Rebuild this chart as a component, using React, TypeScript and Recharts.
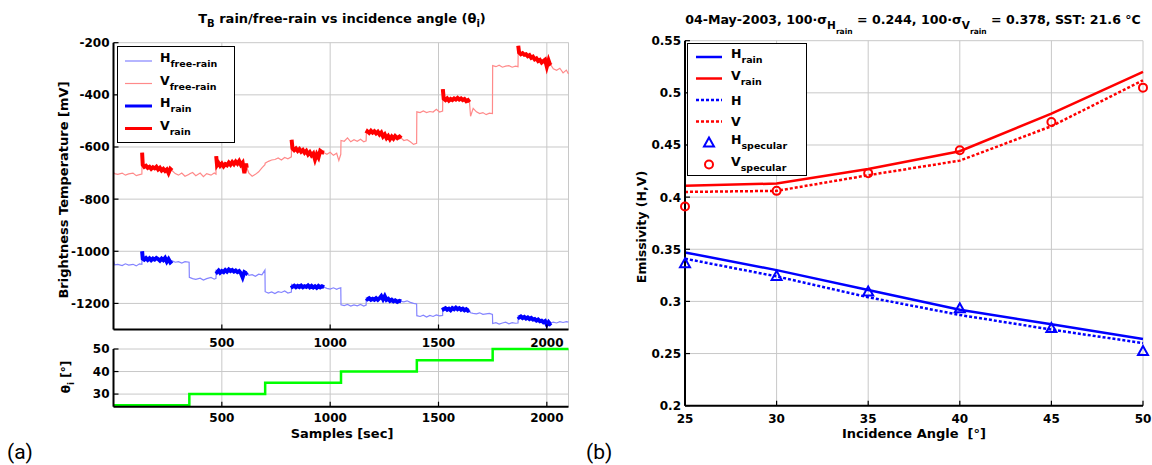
import React from 'react';
import { ComposedChart, Line, XAxis, YAxis, CartesianGrid, Legend, ReferenceLine } from 'recharts';

const FONT = '"DejaVu Sans", Verdana, sans-serif';
const GRID = '#c8c8c8';
const AXIS = { stroke: '#000', strokeWidth: 2 };

// ---- (a) brightness temperature traces ----
const samples = [
  0, 5, 20, 40, 55, 70, 90, 105, 120, 131,
  132, 135, 142, 150, 158, 166, 174, 182, 190, 198, 206, 214, 222, 230, 238, 246, 254, 262, 270,
  285, 300, 315, 330, 349,
  350, 365, 380, 400, 415, 430, 450, 465, 473,
  474, 478, 485, 492, 500, 508, 516, 524, 532, 540, 548, 556, 564, 572, 580, 588, 596, 604, 612, 615,
  625, 640, 655, 670, 685, 699,
  700, 715, 730, 745, 760, 775, 790, 805, 821,
  822, 826, 834, 842, 850, 858, 866, 874, 882, 890, 898, 906, 914, 922, 930, 938, 946, 954, 962, 972,
  985, 1000, 1015, 1030, 1040, 1049,
  1050, 1065, 1080, 1095, 1110, 1125, 1140, 1155, 1166,
  1167, 1172, 1180, 1188, 1196, 1204, 1212, 1220, 1228, 1236, 1244, 1252, 1260, 1268, 1276, 1284, 1292, 1300, 1310, 1320, 1328,
  1340, 1355, 1370, 1385, 1399,
  1400, 1415, 1430, 1445, 1460, 1475, 1490, 1505, 1519,
  1520, 1524, 1532, 1540, 1548, 1556, 1564, 1572, 1580, 1588, 1596, 1604, 1612, 1620, 1628, 1636, 1643,
  1648, 1660, 1675, 1690, 1705, 1720, 1735, 1749,
  1750, 1765, 1780, 1795, 1810, 1825, 1840, 1855, 1867,
  1868, 1872, 1880, 1888, 1896, 1904, 1912, 1920, 1928, 1936, 1944, 1952, 1960, 1968, 1976, 1984, 1992, 2000, 2008, 2014, 2019,
  2030, 2045, 2060, 2075, 2090, 2100,
];

const vTrace = [
  -698, -702, -705, -700, -708, -703, -700, -710, -706, -704,
  -622, -668, -676, -672, -680, -676, -684, -678, -682, -676, -686, -680, -690, -684, -692, -686, -700, -684, -690,
  -702, -708, -700, -712, -705,
  -703, -698, -710, -700, -714, -702, -708, -700, -704,
  -635, -670, -662, -672, -664, -674, -666, -670, -660, -668, -658, -666, -656, -664, -654, -668, -660, -700, -664, -680,
  -700, -712, -705, -695, -680, -668,
  -662, -655, -650, -648, -642, -650, -640, -645, -638,
  -572, -605, -612, -606, -615, -608, -618, -612, -622, -615, -628, -620, -632, -625, -648, -628, -640, -615, -620, -622,
  -628, -620, -632, -624, -652, -628,
  -575, -578, -565, -580, -572, -578, -570, -580, -576,
  -548, -540, -546, -538, -545, -540, -548, -542, -552, -545, -560, -552, -566, -558, -570, -560, -568, -558, -566, -560, -566,
  -575, -572, -580, -590, -586,
  -465, -468, -462, -468, -464, -466, -455, -466, -462,
  -378, -415, -420, -414, -422, -416, -420, -414, -418, -412, -418, -414, -420, -416, -424, -420, -428,
  -482, -452, -465, -472, -468, -476, -470, -472,
  -288, -292, -286, -294, -290, -288, -294, -290, -292,
  -212, -238, -244, -240, -246, -244, -252, -248, -258, -254, -264, -260, -270, -266, -276, -270, -265, -292, -268, -282, -286,
  -300, -306, -298, -316, -305, -320,
];

const hTrace = [
  -1035, -1052, -1050, -1055, -1048, -1053, -1050, -1056, -1048, -1050,
  -1000, -1028, -1032, -1026, -1033, -1027, -1034, -1028, -1032, -1026, -1030, -1036, -1028, -1034, -1026, -1040, -1030, -1042, -1036,
  -1042, -1040, -1045, -1040, -1042,
  -1100, -1105, -1108, -1103, -1110, -1105, -1100, -1107, -1104,
  -1075, -1080, -1074, -1082, -1076, -1080, -1072, -1078, -1070, -1076, -1072, -1078, -1074, -1080, -1076, -1084, -1100, -1080, -1084, -1080,
  -1092, -1090, -1096, -1088, -1090, -1072,
  -1155, -1160, -1156, -1162, -1155, -1158, -1152, -1160, -1156,
  -1130, -1136, -1132, -1138, -1133, -1137, -1132, -1138, -1134, -1137, -1131, -1138, -1133, -1139, -1134, -1140, -1133, -1138, -1134, -1138,
  -1142, -1145, -1140, -1146, -1142, -1140,
  -1205, -1208, -1204, -1210, -1206, -1209, -1204, -1210, -1206,
  -1180, -1184, -1180, -1186, -1182, -1186, -1180, -1186, -1180, -1172, -1184, -1172, -1186, -1182, -1190, -1186, -1192, -1188, -1194, -1190, -1192,
  -1194, -1190, -1196, -1200, -1202,
  -1247, -1250, -1245, -1252, -1246, -1250, -1244, -1248, -1246,
  -1215, -1222, -1218, -1224, -1220, -1226, -1218, -1222, -1216, -1222, -1218, -1224, -1220, -1226, -1222, -1228, -1226,
  -1236, -1238, -1240, -1236, -1242, -1240, -1238, -1242,
  -1277, -1274, -1279, -1275, -1272, -1278, -1274, -1276, -1275,
  -1250, -1254, -1250, -1256, -1252, -1258, -1254, -1260, -1256, -1262, -1260, -1266, -1262, -1268, -1266, -1272, -1268, -1282, -1272, -1278, -1274,
  -1272, -1275, -1270, -1273, -1270, -1272,
];

const rainStart = [132, 474, 822, 1167, 1520, 1868];
const rainEnd = [270, 615, 972, 1328, 1643, 2019];

const sampleTicks = [500, 1000, 1500, 2000];
const brightTicks = [-1200, -1000, -800, -600, -400, -200];

// ---- (a) incidence angle steps ----
const angleSamples = [0, 350, 700, 1050, 1400, 1750, 2100];
const angleValues = [25, 30, 35, 40, 45, 50, 50];
const angleTicks = [30, 40, 50];

// ---- (b) emissivity ----
const incidence = [25, 30, 35, 40, 45, 50];
const hRainEm = [0.347, 0.330, 0.311, 0.292, 0.278, 0.264];
const vRainEm = [0.411, 0.413, 0.427, 0.444, 0.480, 0.520];
const hEm = [0.341, 0.324, 0.304, 0.287, 0.273, 0.260];
const vEm = [0.405, 0.406, 0.421, 0.435, 0.468, 0.512];
const hSpec = [0.336, 0.324, 0.309, 0.293, 0.274, 0.252];
const vSpec = [0.391, 0.406, 0.423, 0.445, 0.472, 0.505];
const emTicks = [0.2, 0.25, 0.3, 0.35, 0.4, 0.45, 0.5, 0.55];

const brightRows = samples.map((s, i) => {
  const inRain = rainStart.some((a, k) => s >= a && s <= rainEnd[k]);
  return {
    s,
    vFree: vTrace[i],
    hFree: hTrace[i],
    vRain: inRain ? vTrace[i] : null,
    hRain: inRain ? hTrace[i] : null,
  };
});
const angleRows = angleSamples.map((s, i) => ({ s, ang: angleValues[i] }));
const emRows = incidence.map((a, i) => ({
  a,
  hRain: hRainEm[i],
  vRain: vRainEm[i],
  h: hEm[i],
  v: vEm[i],
  hSpec: hSpec[i],
  vSpec: vSpec[i],
}));

const txt = { fontFamily: FONT, fontWeight: 'bold' as const, fill: '#000' };

const xTick = (dy: number) => (props: any) => {
  const { x, y, payload } = props;
  return (
    <g>
      <line x1={x} x2={x} y1={y} y2={y - 5} stroke="#000" strokeWidth={1.2} />
      <text x={x} y={y + dy} textAnchor="middle" fontSize={12} {...txt}>
        {String(payload.value)}
      </text>
    </g>
  );
};

const YTick = (props: any) => {
  const { x, y, payload } = props;
  return (
    <g>
      <line x1={x} x2={x + 5} y1={y} y2={y} stroke="#000" strokeWidth={1.2} />
      <text x={x - 4} y={y + 4.4} textAnchor="end" fontSize={12} {...txt}>
        {String(payload.value)}
      </text>
    </g>
  );
};

const LEFT_FREE_H = '#8484ff';
const LEFT_FREE_V = '#ff8a8a';

const LegendLabel = ({ x, y, main, sub }: { x: number; y: number; main: string; sub?: string }) => (
  <text x={x} y={y} fontSize={12.5} {...txt}>
    {main}
    {sub ? (
      <tspan dy={5} fontSize={9.5}>
        {sub}
      </tspan>
    ) : null}
  </text>
);

const LeftLegend = () => {
  const rows = [
    { main: 'H', sub: 'free-rain', color: LEFT_FREE_H, w: 1.2 },
    { main: 'V', sub: 'free-rain', color: LEFT_FREE_V, w: 1.2 },
    { main: 'H', sub: 'rain', color: '#0000ff', w: 3 },
    { main: 'V', sub: 'rain', color: '#ff0000', w: 3 },
  ];
  return (
    <svg width={118} height={97} style={{ display: 'block' }}>
      <rect x={0.5} y={0.5} width={117} height={96} fill="#fff" stroke="#000" strokeWidth={1} />
      {rows.map((r, i) => {
        const y = 15 + i * 22.5;
        return (
          <g key={i}>
            <line x1={8} x2={35} y1={y} y2={y} stroke={r.color} strokeWidth={r.w} />
            <LegendLabel x={43} y={y + 1} main={r.main} sub={r.sub} />
          </g>
        );
      })}
    </svg>
  );
};

const Tri = ({ cx, cy, color }: any) => (
  <polygon
    points={`${cx},${cy - 5.5} ${cx - 5},${cy + 3.5} ${cx + 5},${cy + 3.5}`}
    fill="none"
    stroke={color}
    strokeWidth={2}
  />
);
const Circ = ({ cx, cy, color }: any) => <circle cx={cx} cy={cy} r={4} fill="none" stroke={color} strokeWidth={2} />;

const RightLegend = () => {
  const rows: any[] = [
    { main: 'H', sub: 'rain', color: '#0000ff', kind: 'solid' },
    { main: 'V', sub: 'rain', color: '#ff0000', kind: 'solid' },
    { main: 'H', color: '#0000ff', kind: 'dot' },
    { main: 'V', color: '#ff0000', kind: 'dot' },
    { main: 'H', sub: 'specular', color: '#0000ff', kind: 'tri' },
    { main: 'V', sub: 'specular', color: '#ff0000', kind: 'circ' },
  ];
  return (
    <svg width={120} height={133} style={{ display: 'block' }}>
      <rect x={0.5} y={0.5} width={119} height={132} fill="#fff" stroke="#000" strokeWidth={1} />
      {rows.map((r, i) => {
        const y = 14 + i * 21.5;
        return (
          <g key={i}>
            {r.kind === 'solid' && <line x1={9} x2={35} y1={y} y2={y} stroke={r.color} strokeWidth={2.5} />}
            {r.kind === 'dot' && (
              <line x1={9} x2={35} y1={y} y2={y} stroke={r.color} strokeWidth={2.5} strokeDasharray="3 2" />
            )}
            {r.kind === 'tri' && <Tri cx={22} cy={y} color={r.color} />}
            {r.kind === 'circ' && <Circ cx={22} cy={y} color={r.color} />}
            <LegendLabel x={44} y={y + (r.sub ? 1 : 4.5)} main={r.main} sub={r.sub} />
          </g>
        );
      })}
    </svg>
  );
};

export default function App() {
  return (
    <div style={{ position: 'absolute', left: 0, top: 0, width: 1152, height: 465, background: '#fff', overflow: 'hidden' }}>
      {/* (a) top: brightness temperature */}
      <div style={{ position: 'absolute', left: 0, top: 0 }}>
        <ComposedChart width={580} height={360} data={brightRows} margin={{ top: 42.7, right: 11.5, bottom: 5.5, left: 63.5 }}>
          <CartesianGrid stroke={GRID} />
          <XAxis
            dataKey="s"
            type="number"
            domain={[0, 2100]}
            ticks={sampleTicks}
            interval={0}
            height={25}
            tickSize={0}
            tickMargin={0}
            tick={xTick(17)}
            tickLine={false}
            axisLine={AXIS}
          />
          <YAxis
            type="number"
            domain={[-1300, -200]}
            ticks={brightTicks}
            interval={0}
            width={50}
            tickSize={0}
            tickMargin={0}
            tick={YTick}
            tickLine={false}
            axisLine={AXIS}
          />
          <ReferenceLine x={2100} stroke={GRID} />
          <Line dataKey="hFree" type="linear" stroke={LEFT_FREE_H} strokeWidth={1.2} dot={false} activeDot={false} isAnimationActive={false} />
          <Line dataKey="vFree" type="linear" stroke={LEFT_FREE_V} strokeWidth={1.2} dot={false} activeDot={false} isAnimationActive={false} />
          <Line dataKey="hRain" type="linear" stroke="#0000ff" strokeWidth={4} dot={false} activeDot={false} isAnimationActive={false} />
          <Line dataKey="vRain" type="linear" stroke="#ff0000" strokeWidth={4} dot={false} activeDot={false} isAnimationActive={false} />
          <Legend
            layout="horizontal"
            verticalAlign="middle"
            align="center"
            wrapperStyle={{ left: 117, top: 46, width: 118, height: 97 }}
            content={() => <LeftLegend />}
          />
        </ComposedChart>
      </div>

      {/* (a) bottom: incidence angle */}
      <div style={{ position: 'absolute', left: 0, top: 340 }}>
        <ComposedChart width={580} height={100} data={angleRows} margin={{ top: 9, right: 11.5, bottom: 8.3, left: 63.5 }}>
          <CartesianGrid stroke={GRID} />
          <XAxis
            dataKey="s"
            type="number"
            domain={[0, 2100]}
            ticks={sampleTicks}
            interval={0}
            height={25}
            tickSize={0}
            tickMargin={0}
            tick={xTick(15)}
            tickLine={false}
            axisLine={AXIS}
          />
          <YAxis
            type="number"
            domain={[24.4, 50]}
            ticks={angleTicks}
            interval={0}
            width={50}
            tickSize={0}
            tickMargin={0}
            tick={YTick}
            tickLine={false}
            axisLine={AXIS}
          />
          <ReferenceLine x={2100} stroke={GRID} />
          <Line dataKey="ang" type="stepAfter" stroke="#00ff00" strokeWidth={2.5} dot={false} activeDot={false} isAnimationActive={false} />
        </ComposedChart>
      </div>

      {/* (b) emissivity */}
      <div style={{ position: 'absolute', left: 580, top: 0 }}>
        <ComposedChart width={572} height={440} data={emRows} margin={{ top: 40.7, right: 9, bottom: 9.3, left: 45 }}>
          <CartesianGrid stroke={GRID} />
          <XAxis
            dataKey="a"
            type="number"
            domain={[25, 50]}
            ticks={incidence}
            interval={0}
            height={25}
            tickSize={0}
            tickMargin={0}
            tick={xTick(17)}
            tickLine={false}
            axisLine={AXIS}
          />
          <YAxis
            type="number"
            domain={[0.2, 0.55]}
            ticks={emTicks}
            interval={0}
            width={60}
            tickSize={0}
            tickMargin={0}
            tick={YTick}
            tickLine={false}
            axisLine={AXIS}
          />
          <Line dataKey="hRain" type="linear" stroke="#0000ff" strokeWidth={2.5} dot={false} activeDot={false} isAnimationActive={false} />
          <Line dataKey="vRain" type="linear" stroke="#ff0000" strokeWidth={2.5} dot={false} activeDot={false} isAnimationActive={false} />
          <Line dataKey="h" type="linear" stroke="#0000ff" strokeWidth={2.5} strokeDasharray="3 2" dot={false} activeDot={false} isAnimationActive={false} />
          <Line dataKey="v" type="linear" stroke="#ff0000" strokeWidth={2.5} strokeDasharray="3 2" dot={false} activeDot={false} isAnimationActive={false} />
          <Line
            dataKey="hSpec"
            stroke="none"
            dot={(p: any) => <Tri key={`t${p.index}`} cx={p.cx} cy={p.cy} color="#0000ff" />}
            activeDot={false}
            isAnimationActive={false}
          />
          <Line
            dataKey="vSpec"
            stroke="none"
            dot={(p: any) => <Circ key={`c${p.index}`} cx={p.cx} cy={p.cy} color="#ff0000" />}
            activeDot={false}
            isAnimationActive={false}
          />
          <Legend
            layout="horizontal"
            verticalAlign="middle"
            align="center"
            wrapperStyle={{ left: 107, top: 43, width: 120, height: 133 }}
            content={() => <RightLegend />}
          />
        </ComposedChart>
      </div>

      {/* titles and labels */}
      <svg width={1152} height={465} style={{ position: 'absolute', left: 0, top: 0, pointerEvents: 'none' }}>
        <text x={342} y={23} textAnchor="middle" fontSize={13} {...txt}>
          T<tspan dy={4} fontSize={10}>B</tspan>
          <tspan dy={-4}> rain/free-rain vs incidence angle (θ</tspan>
          <tspan dy={4} fontSize={10}>i</tspan>
          <tspan dy={-4}>)</tspan>
        </text>
        <text x={913} y={24} textAnchor="middle" fontSize={12.6} {...txt}>
          04-May-2003, 100·σ<tspan dy={5} fontSize={10.5}>H</tspan>
          <tspan dy={5} fontSize={7.5}>rain</tspan>
          <tspan dy={-10}> = 0.244, 100·σ</tspan>
          <tspan dy={5} fontSize={10.5}>V</tspan>
          <tspan dy={5} fontSize={7.5}>rain</tspan>
          <tspan dy={-10}> = 0.378, SST: 21.6 °C</tspan>
        </text>
        <text x={67.5} y={190} transform="rotate(-90 67.5 190)" textAnchor="middle" fontSize={13} {...txt}>
          Brightness Temperature [mV]
        </text>
        <text x={70} y={377} transform="rotate(-90 70 377)" textAnchor="middle" fontSize={12} {...txt}>
          θ<tspan dy={4} fontSize={9}>i</tspan>
          <tspan dy={-4}> [°]</tspan>
        </text>
        <text x={342} y={438} textAnchor="middle" fontSize={13} {...txt}>
          Samples [sec]
        </text>
        <text x={645.5} y={227} transform="rotate(-90 645.5 227)" textAnchor="middle" fontSize={12.5} {...txt}>
          Emissivity (H,V)
        </text>
        <text x={914} y={438} textAnchor="middle" fontSize={13} style={{ whiteSpace: 'pre' }} {...txt}>
          {'Incidence Angle  [°]'}
        </text>
        <text x={7} y={459} fontSize={21} fontFamily='"Liberation Sans Narrow", Roboto, sans-serif' fill="#000">
          (a)
        </text>
        <text x={586} y={459} fontSize={21} fontFamily='"Liberation Sans Narrow", Roboto, sans-serif' fill="#000">
          (b)
        </text>
      </svg>
    </div>
  );
}
